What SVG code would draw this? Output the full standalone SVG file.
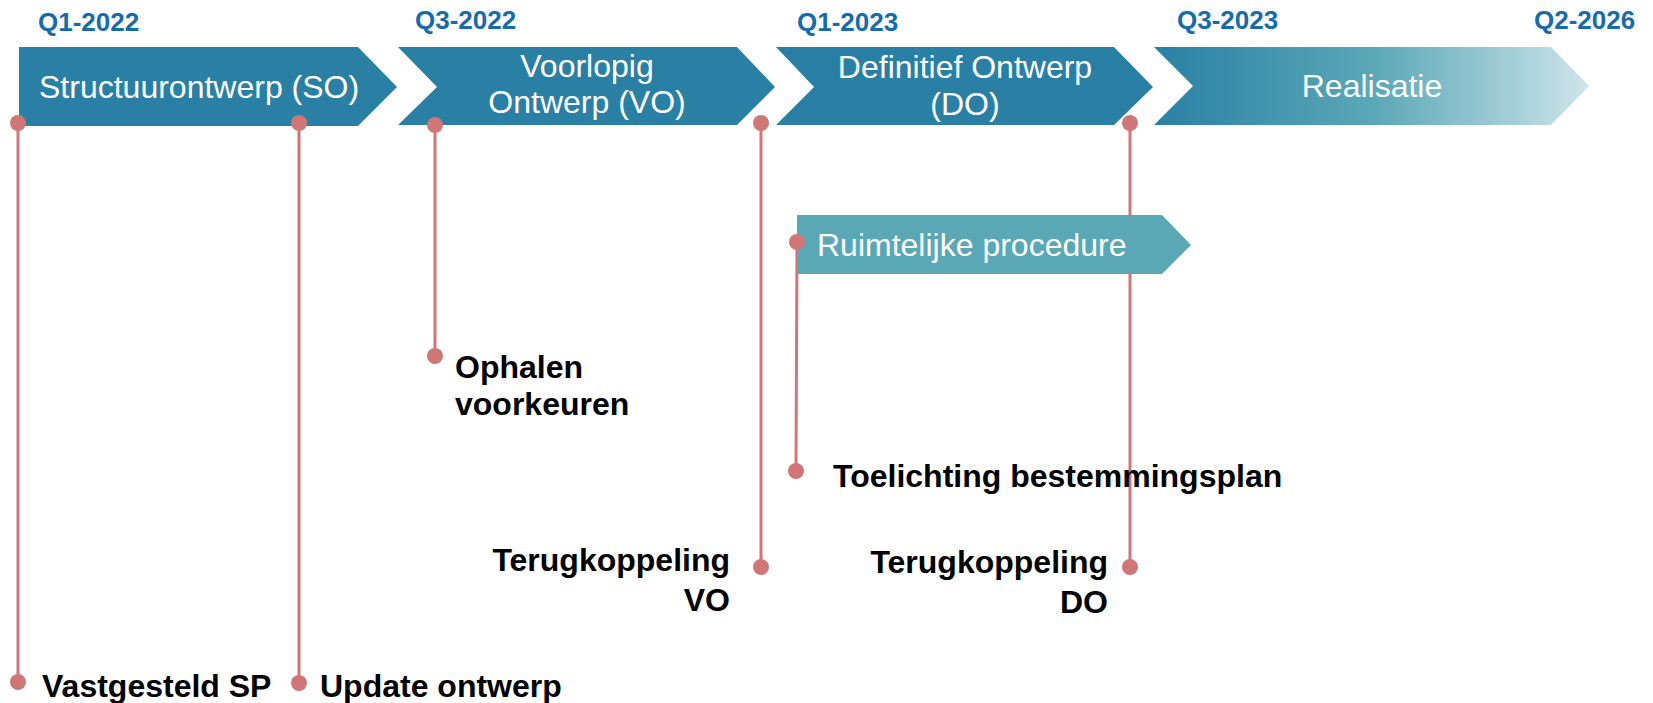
<svg xmlns="http://www.w3.org/2000/svg" width="1653" height="703" viewBox="0 0 1653 703">
<style>
.date{font-family:"Liberation Sans",Arial,sans-serif;font-weight:bold;font-size:26px;fill:#166bab}
.ph{font-family:"Liberation Sans",Arial,sans-serif;font-size:32px;fill:#ffffff}
.lbl{font-family:"Liberation Sans",Arial,sans-serif;font-weight:bold;font-size:32px;fill:#000000}
.chev{fill:#2a80a4}
.conn{stroke:#d07676;stroke-width:3;fill:none}
.dot{fill:#d07676}
</style>
<defs>
<linearGradient id="gr" x1="0" y1="0" x2="1" y2="0">
<stop offset="0" stop-color="#2a80a4"/>
<stop offset="0.5" stop-color="#5aa7b6"/>
<stop offset="1" stop-color="#cde5ea"/>
</linearGradient>
</defs>
<rect width="1653" height="703" fill="#ffffff"/>
<g id="dates">
<text class="date" x="38" y="31">Q1-2022</text>
<text class="date" x="415" y="29">Q3-2022</text>
<text class="date" x="797" y="31">Q1-2023</text>
<text class="date" x="1177" y="29">Q3-2023</text>
<text class="date" x="1534" y="29">Q2-2026</text>
</g>
<g id="connectors">
<line class="conn" x1="18" y1="123" x2="18" y2="682"/>
<line class="conn" x1="299" y1="123" x2="299" y2="683"/>
<line class="conn" x1="435" y1="124" x2="435" y2="356"/>
<line class="conn" x1="761" y1="123" x2="761" y2="567"/>
<line class="conn" x1="1130" y1="123" x2="1130" y2="567"/>
<line class="conn" x1="797" y1="242" x2="796" y2="471"/>
</g>
<g id="so">
<polygon class="chev" points="19,47 358,47 397,87 358,126 19,126"/>
<text class="ph" x="39" y="98">Structuurontwerp (SO)</text>
</g>
<g id="vo">
<polygon class="chev" points="398,47 737,47 775,87 737,125 398,125 437,87"/>
<text class="ph" x="587" y="77" text-anchor="middle">Voorlopig</text>
<text class="ph" x="587" y="113" text-anchor="middle">Ontwerp (VO)</text>
</g>
<g id="do">
<polygon class="chev" points="776,47 1114,47 1153,87 1114,125 776,125 814,87"/>
<text class="ph" x="965" y="78" text-anchor="middle">Definitief Ontwerp</text>
<text class="ph" x="965" y="115" text-anchor="middle">(DO)</text>
</g>
<g id="realisatie">
<polygon fill="url(#gr)" points="1154,47 1551,47 1589,86 1551,125 1154,125 1193,86"/>
<text class="ph" x="1372" y="97" text-anchor="middle">Realisatie</text>
</g>
<g id="ruimtelijke">
<polygon fill="#5aa8b5" points="797,215 1162,215 1191,245 1162,274 797,274"/>
<text class="ph" x="817" y="256">Ruimtelijke procedure</text>
</g>
<g id="dots">
<circle class="dot" cx="18" cy="123" r="8"/>
<circle class="dot" cx="299" cy="123" r="8"/>
<circle class="dot" cx="435" cy="125" r="8"/>
<circle class="dot" cx="761" cy="123" r="8"/>
<circle class="dot" cx="1130" cy="123" r="8"/>
<circle class="dot" cx="797" cy="242" r="8"/>
</g>
<g id="m-vastgesteld">
<circle class="dot" cx="18" cy="682" r="8"/>
<text class="lbl" x="42" y="697">Vastgesteld SP</text>
</g>
<g id="m-update">
<circle class="dot" cx="299" cy="683" r="8"/>
<text class="lbl" x="320" y="697">Update ontwerp</text>
</g>
<g id="m-ophalen">
<circle class="dot" cx="435" cy="356" r="8"/>
<text class="lbl" x="455" y="378">Ophalen</text>
<text class="lbl" x="455" y="415">voorkeuren</text>
</g>
<g id="m-terugvo">
<circle class="dot" cx="761" cy="567" r="8"/>
<text class="lbl" x="730" y="571" text-anchor="end">Terugkoppeling</text>
<text class="lbl" x="730" y="611" text-anchor="end">VO</text>
</g>
<g id="m-toelichting">
<circle class="dot" cx="796" cy="471" r="8"/>
<text class="lbl" x="833" y="487">Toelichting bestemmingsplan</text>
</g>
<g id="m-terugdo">
<circle class="dot" cx="1130" cy="567" r="8"/>
<text class="lbl" x="1108" y="573" text-anchor="end">Terugkoppeling</text>
<text class="lbl" x="1108" y="613" text-anchor="end">DO</text>
</g>
</svg>
